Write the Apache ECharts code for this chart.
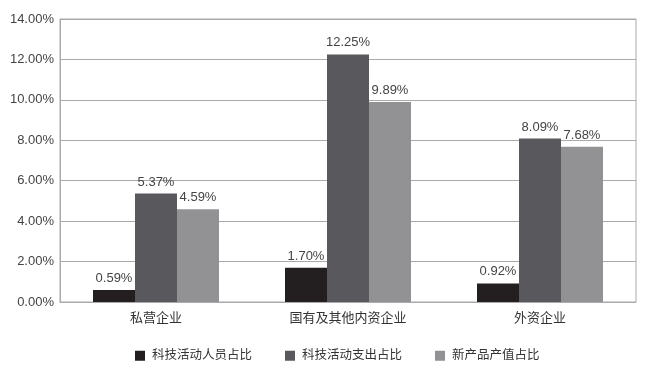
<!DOCTYPE html>
<html><head><meta charset="utf-8">
<script src="https://cdn.jsdelivr.net/npm/echarts@6/dist/echarts.min.js"></script>
<style>html,body{margin:0;padding:0;background:#fff}#c{width:648px;height:369px}</style>
</head><body><div id="c"></div>
<script>
const categories = ['私营企业', '国有及其他内资企业', '外资企业'];
const seriesNames = ['科技活动人员占比', '科技活动支出占比', '新产品产值占比'];
const personnel = [0.59, 1.70, 0.92];
const expenditure = [5.37, 12.25, 8.09];
const newProduct = [4.59, 9.89, 7.68];
const yTicks = [0, 2, 4, 6, 8, 10, 12, 14];

const colors = ['#231f20', '#59585c', '#929295'];
const fontFam = '"Liberation Sans", "Noto Sans CJK SC", sans-serif';
const chart = echarts.init(document.getElementById('c'));
const mk = (name, data, color) => ({
  name, type: 'bar', data, barWidth: 42, barGap: '0%',
  itemStyle: { color },
  label: { show: true, position: 'top', distance: 5, color: '#444', fontSize: 13, fontFamily: fontFam,
    formatter: p => p.value.toFixed(2) + '%' }
});
chart.setOption({
  animation: false,
  color: colors,
  grid: { left: 60, right: 12, top: 19, bottom: 67, show: true, borderColor: '#aaa', borderWidth: 1 },
  legend: {
    bottom: 2, left: 130, itemWidth: 10, itemHeight: 10, itemGap: 33,
    icon: 'rect',
    textStyle: { color: '#333', fontSize: 12.5, fontFamily: fontFam, padding: [0, 0, 0, 2] },
    data: seriesNames
  },
  xAxis: {
    type: 'category', data: categories,
    axisLine: { lineStyle: { color: '#aaa' } },
    axisTick: { show: false },
    axisLabel: { color: '#333', fontSize: 13, fontFamily: fontFam, margin: 10 }
  },
  yAxis: {
    type: 'value', min: yTicks[0], max: yTicks[yTicks.length - 1], interval: 2,
    axisLine: { show: true, lineStyle: { color: '#aaa' } },
    axisTick: { show: false },
    splitLine: { lineStyle: { color: '#aaa' } },
    axisLabel: { color: '#444', fontSize: 13, fontFamily: fontFam, margin: 6,
      formatter: v => v.toFixed(2) + '%' }
  },
  series: [
    mk(seriesNames[0], personnel, colors[0]),
    mk(seriesNames[1], expenditure, colors[1]),
    mk(seriesNames[2], newProduct, colors[2])
  ]
});
</script></body></html>
